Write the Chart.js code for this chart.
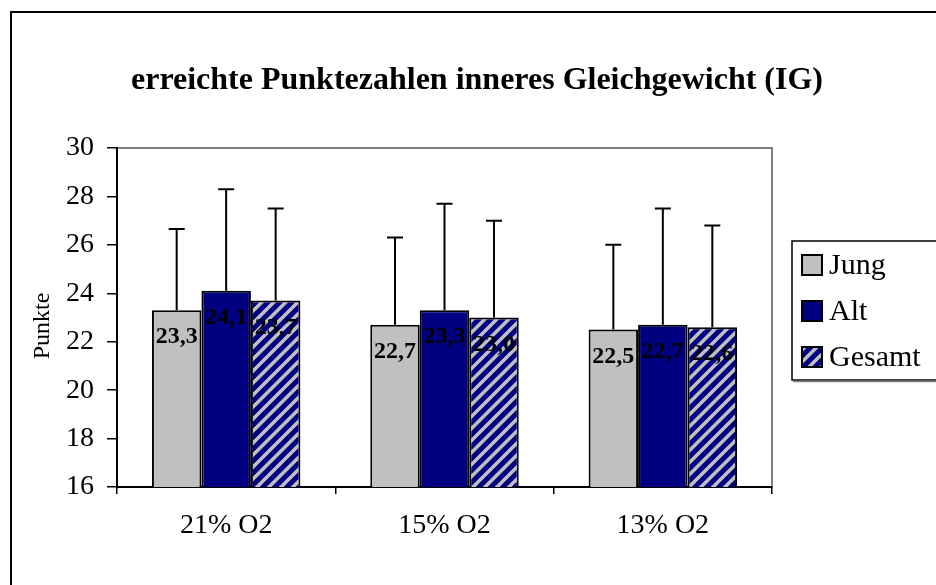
<!DOCTYPE html>
<html>
<head>
<meta charset="utf-8">
<script src="https://cdn.jsdelivr.net/npm/chart.js@4.4.0/dist/chart.umd.min.js"></script>
<style>
  body { margin: 0; background: #fff; }
  #wrap { width: 936px; height: 585px; }
</style>
</head>
<body>
<div id="wrap"><canvas id="myChart" width="936" height="585"></canvas></div>
<script>
const categories = ["21% O2", "15% O2", "13% O2"];
const seriesNames = ["Jung", "Alt", "Gesamt"];
const jung = [23.3, 22.7, 22.5];
const alt = [24.1, 23.3, 22.7];
const gesamt = [23.7, 23.0, 22.6];
// standard deviations (upper error bars only)
const jungSd = [3.35, 3.6, 3.5];
const altSd = [4.2, 4.4, 4.8];
const gesamtSd = [3.8, 4.0, 4.2];
const yTicks = [16, 18, 20, 22, 24, 26, 28, 30];

const SERIF = "'Liberation Serif', 'Times New Roman', serif";

// striped pattern for "Gesamt"
function makeStripes() {
  const c = document.createElement('canvas');
  c.width = 12; c.height = 12;
  const g = c.getContext('2d');
  g.fillStyle = '#000080';
  g.fillRect(0, 0, 12, 12);
  g.strokeStyle = '#c0c0c0';
  g.lineWidth = 3.5;
  g.beginPath();
  g.moveTo(-3, 15); g.lineTo(15, -3);
  g.moveTo(-9, 9); g.lineTo(9, -9);
  g.moveTo(3, 21); g.lineTo(21, 3);
  g.stroke();
  return g.createPattern(c, 'repeat');
}
const stripes = makeStripes();

const errorBars = {
  id: 'errorBars',
  afterDatasetsDraw(chart) {
    const ctx = chart.ctx;
    const y = chart.scales.y;
    ctx.save();
    ctx.strokeStyle = '#000';
    ctx.lineWidth = 2;
    chart.data.datasets.forEach((ds, i) => {
      chart.getDatasetMeta(i).data.forEach((bar, j) => {
        const top = y.getPixelForValue(ds.data[j] + ds.sd[j]);
        ctx.beginPath();
        ctx.moveTo(bar.x, bar.y);
        ctx.lineTo(bar.x, top);
        ctx.moveTo(bar.x - 8, top);
        ctx.lineTo(bar.x + 8, top);
        ctx.stroke();
      });
    });
    // value labels
    ctx.fillStyle = '#000';
    ctx.font = 'bold 24px ' + SERIF;
    ctx.textAlign = 'center';
    ctx.textBaseline = 'middle';
    chart.data.datasets.forEach((ds, i) => {
      chart.getDatasetMeta(i).data.forEach((bar, j) => {
        ctx.fillText(ds.data[j].toFixed(1).replace('.', ','), bar.x, bar.y + 27);
      });
    });
    ctx.restore();
  }
};

const decor = {
  id: 'decor',
  beforeDraw(chart) {
    const ctx = chart.ctx;
    const a = chart.chartArea;
    ctx.save();
    ctx.fillStyle = '#fff';
    ctx.fillRect(0, 0, chart.width, chart.height);
    // outer frame
    ctx.strokeStyle = '#000';
    ctx.lineWidth = 2;
    ctx.strokeRect(11, 12, 1000, 1000);
    // plot area border (grey)
    ctx.strokeStyle = '#808080';
    ctx.lineWidth = 2;
    ctx.strokeRect(a.left, a.top, a.right - a.left, a.bottom - a.top);
    ctx.restore();
  },
  afterDraw(chart) {
    const ctx = chart.ctx;
    ctx.save();
    ctx.fillStyle = '#000';
    // title
    ctx.font = 'bold 32px ' + SERIF;
    ctx.textAlign = 'center';
    ctx.textBaseline = 'alphabetic';
    ctx.fillText('erreichte Punktezahlen inneres Gleichgewicht (IG)', 477, 89);
    // y axis title
    ctx.font = '24px ' + SERIF;
    ctx.translate(43, 326);
    ctx.rotate(-Math.PI / 2);
    ctx.textBaseline = 'middle';
    ctx.fillText('Punkte', 0, 0);
    ctx.restore();

    // legend
    ctx.save();
    ctx.strokeStyle = '#000';
    ctx.lineWidth = 1.5;
    ctx.strokeRect(792, 241, 200, 139);
    ctx.strokeStyle = '#808080';
    ctx.beginPath();
    ctx.moveTo(793, 381.5); ctx.lineTo(936, 381.5);
    ctx.stroke();
    chart.data.datasets.forEach((ds, i) => {
      const cy = 265 + i * 46;
      ctx.fillStyle = ds.backgroundColor;
      ctx.fillRect(802, cy - 10, 20, 20);
      ctx.strokeStyle = '#000';
      ctx.lineWidth = 2;
      ctx.strokeRect(802, cy - 10, 20, 20);
      ctx.fillStyle = '#000';
      ctx.font = '30px ' + SERIF;
      ctx.textAlign = 'left';
      ctx.textBaseline = 'middle';
      ctx.fillText(ds.label, 829, cy + 1);
    });
    ctx.restore();
  }
};

const ctx = document.getElementById("myChart").getContext("2d");
const myChart = new Chart(ctx, {
  type: "bar",
  data: {
    labels: categories,
    datasets: [
      { label: seriesNames[0], data: jung, sd: jungSd, backgroundColor: '#c0c0c0' },
      { label: seriesNames[1], data: alt, sd: altSd, backgroundColor: '#000080' },
      { label: seriesNames[2], data: gesamt, sd: gesamtSd, backgroundColor: stripes }
    ].map(d => Object.assign(d, {
      borderColor: '#000',
      borderWidth: 2,
      borderSkipped: false,
      categoryPercentage: 0.68,
      barPercentage: 1.0
    }))
  },
  options: {
    responsive: false,
    animation: false,
    layout: { padding: { left: 0, top: 148, right: 164, bottom: 0 } },
    plugins: {
      legend: { display: false },
      tooltip: { enabled: false },
      title: { display: false }
    },
    scales: {
      y: {
        min: 16,
        max: 30,
        afterFit(scale) { scale.width = 117; },
        afterBuildTicks(scale) { scale.ticks = yTicks.map(v => ({ value: v })); },
        border: { color: '#000', width: 2 },
        grid: { drawOnChartArea: false, drawTicks: true, tickLength: 10, color: '#000', lineWidth: 1.5 },
        ticks: {
          color: '#000',
          padding: 13,
          font: { family: SERIF, size: 28 }
        }
      },
      x: {
        afterFit(scale) { scale.height = 98; },
        border: { color: '#000', width: 2 },
        grid: { drawOnChartArea: false, drawTicks: true, tickLength: 7, color: '#000', lineWidth: 1.5, offset: true },
        ticks: {
          color: '#000',
          padding: 15,
          font: { family: SERIF, size: 28 }
        }
      }
    }
  },
  plugins: [decor, errorBars]
});
</script>
</body>
</html>
